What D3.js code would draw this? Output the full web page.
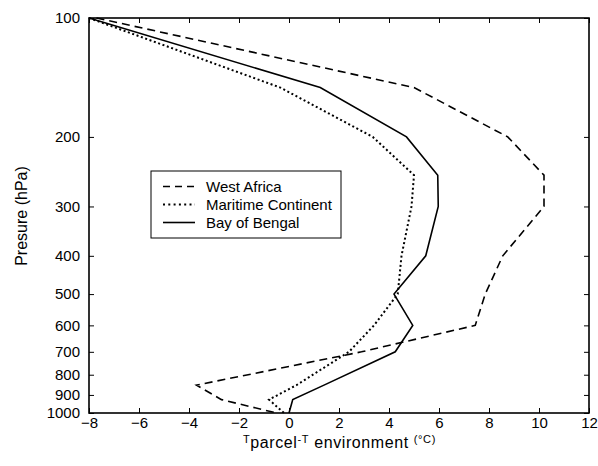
<!DOCTYPE html>
<html>
<head>
<meta charset="utf-8">
<script src="https://cdn.jsdelivr.net/npm/d3@7"></script>
<style>
  body { margin: 0; background: #fff; }
  text { font-family: Arial, "Liberation Sans", sans-serif; fill: #000; }
</style>
</head>
<body>
<div id="chart"></div>
<script>
// pressure levels (hPa) and parcel - environment temperature (deg C)
const pressure = [100, 150, 200, 250, 300, 400, 500, 600, 700, 850, 925, 1000];
const westAfrica = [-7.7, 5.0, 8.75, 10.2, 10.2, 8.55, 7.85, 7.45, 2.9, -3.7, -2.7, -0.5];
const maritimeContinent = [-8, -0.35, 3.35, 5.0, 4.9, 4.5, 4.35, 3.4, 2.4, 0.3, -0.8, -0.2];
const bayOfBengal = [-8, 1.25, 4.7, 5.95, 5.97, 5.47, 4.2, 4.95, 4.25, 1.4, 0.15, 0.0];

const seriesNames = ['West Africa', 'Maritime Continent', 'Bay of Bengal'];
const xTicks = [-8, -6, -4, -2, 0, 2, 4, 6, 8, 10, 12];
const yTicks = [100, 200, 300, 400, 500, 600, 700, 800, 900, 1000];

{
  const W = 598;
  const H = 466;
  const margin = { top: 18, right: 9, bottom: 53, left: 89 };
  const width = W - margin.left - margin.right;
  const height = H - margin.top - margin.bottom;

  const svg = d3.select('#chart').append('svg')
    .attr('width', W)
    .attr('height', H);

  const g = svg.append('g')
    .attr('transform', `translate(${margin.left},${margin.top})`);

  const x = d3.scaleLinear().domain([-8, 12]).range([0, width]);
  const y = d3.scaleLog().domain([100, 1000]).range([0, height]);

  // axes, ticks pointing inward on all four sides
  const fmt = d3.format('d');
  const axisB = g.append('g')
    .attr('transform', `translate(0,${height})`)
    .call(d3.axisBottom(x).tickValues(xTicks).tickSize(-5).tickPadding(4).tickFormat(fmt));
  const axisT = g.append('g')
    .call(d3.axisTop(x).tickValues(xTicks).tickSize(-5).tickFormat(''));
  const axisL = g.append('g')
    .call(d3.axisLeft(y).tickValues(yTicks).tickSize(-5).tickPadding(9).tickFormat(fmt));
  const axisR = g.append('g')
    .attr('transform', `translate(${width},0)`)
    .call(d3.axisRight(y).tickValues(yTicks).tickSize(-5).tickFormat(''));

  [axisB, axisT, axisL, axisR].forEach((a) => {
    a.select('.domain').remove();
    a.selectAll('.tick line').attr('stroke', '#000').attr('stroke-width', 1);
    a.selectAll('.tick text')
      .style('font-family', 'Arial, "Liberation Sans", sans-serif')
      .style('font-size', '15px');
  });

  g.append('rect')
    .attr('width', width)
    .attr('height', height)
    .attr('fill', 'none')
    .attr('stroke', '#000')
    .attr('stroke-width', 1.6);

  const styles = [
    { dash: '8,5', width: 1.6 },
    { dash: '2,2.6', width: 2 },
    { dash: null, width: 1.6 },
  ];
  const allSeries = [westAfrica, maritimeContinent, bayOfBengal];

  const line = d3.line()
    .x(d => x(d[0]))
    .y(d => y(d[1]));

  allSeries.forEach((vals, i) => {
    g.append('path')
      .datum(vals.map((v, j) => [v, pressure[j]]))
      .attr('d', line)
      .attr('fill', 'none')
      .attr('stroke', '#000')
      .attr('stroke-width', styles[i].width)
      .attr('stroke-dasharray', styles[i].dash);
  });

  // legend
  const legend = svg.append('g').attr('transform', 'translate(151,171)');
  legend.append('rect')
    .attr('width', 190)
    .attr('height', 67)
    .attr('fill', '#fff')
    .attr('stroke', '#000')
    .attr('stroke-width', 1);
  const items = legend.selectAll('g.item')
    .data(seriesNames)
    .enter()
    .append('g')
    .attr('class', 'item')
    .attr('transform', (d, i) => `translate(0,${15.5 + i * 18})`);
  items.append('line')
    .attr('x1', 12).attr('x2', 44)
    .attr('stroke', '#000')
    .attr('stroke-width', (d, i) => styles[i].width)
    .attr('stroke-dasharray', (d, i) => (i === 0 ? '7,5' : i === 1 ? '2,3.3' : null));
  items.append('text')
    .attr('x', 55)
    .attr('dy', '0.35em')
    .style('font-size', '15px')
    .text(d => d);

  // axis titles
  svg.append('text')
    .attr('transform', 'translate(27,216) rotate(-90)')
    .attr('text-anchor', 'middle')
    .style('font-size', '16px')
    .text('Presure (hPa)');

  const xt = svg.append('text')
    .attr('x', 243)
    .attr('y', 448)
    .style('font-size', '16px')
    .style('letter-spacing', '0.6px');
  xt.append('tspan').style('font-size', '11px').attr('dy', -5).text('T');
  xt.append('tspan').attr('dy', 5).text('parcel');
  xt.append('tspan').style('font-size', '11px').attr('dy', -5).text('-T');
  xt.append('tspan').attr('dy', 5).text(' environment ');
  xt.append('tspan').style('font-size', '11px').attr('dy', -5).text('(°C)');
}
</script>
</body>
</html>
